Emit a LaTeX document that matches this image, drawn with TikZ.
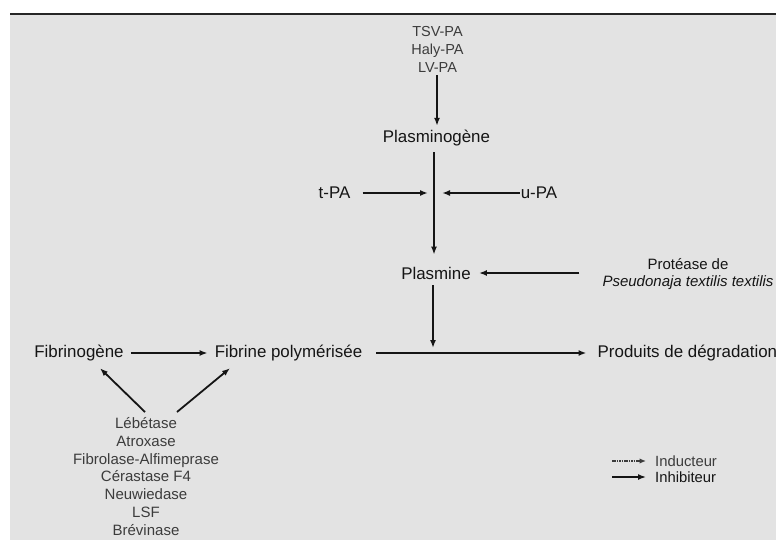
\documentclass[tikz,border=0pt]{standalone}
\usepackage{fontspec}
\setmainfont{Liberation Sans}
\usetikzlibrary{arrows.meta}
\definecolor{panel}{HTML}{E3E3E3}
\definecolor{rulecol}{HTML}{262626}
\definecolor{ink}{HTML}{151515}
\definecolor{soft}{HTML}{3C3C3C}
\begin{document}
\begin{tikzpicture}[x=1pt,y=-1pt,
  lbl/.style={inner sep=0pt, text=ink, font=\fontsize{16.9}{20}\selectfont},
  sml/.style={inner sep=0pt, text=soft, align=center, font=\fontsize{15}{17.9}\selectfont},
  leg/.style={inner sep=0pt, text=soft, anchor=west, font=\fontsize{14.8}{16}\selectfont},
  arr/.style={draw=ink, line width=1.8pt, -{Latex[length=8pt,width=6pt]}},
  indarr/.style={draw=soft, line width=1.3pt, dash pattern=on 1.6pt off 0.8pt, -{Latex[length=6.5pt,width=5.5pt]}},
]
% page and panel
\useasboundingbox (0,0) rectangle (776,540);
\fill[white] (0,0) rectangle (776,540);
\fill[panel] (10,14) rectangle (776,540);
\draw[rulecol, line width=2.6pt] (10,14) -- (776,14);

% labels
\node[sml, font=\fontsize{14.5}{18}\selectfont] (src) at (437.5,49) {TSV-PA\\Haly-PA\\LV-PA};
\node[lbl] (pgn) at (436.5,138) {Plasminogène};
\node[lbl] (tpa) at (334.5,193) {t-PA};
\node[lbl] (upa) at (539,193) {u-PA};
\node[lbl] (pla) at (436,273) {Plasmine};
\node[sml, text=ink] (prot) at (688,274) {Protéase de\\\textit{Pseudonaja textilis textilis}};
\node[lbl] (fgn) at (79,353) {Fibrinogène};
\node[lbl] (fpol) at (288.5,353) {Fibrine polymérisée};
\node[lbl, anchor=west] (prod) at (597.5,353) {Produits de dégradation};
\node[sml] (enz) at (146,476.5) {Lébétase\\Atroxase\\Fibrolase-Alfimeprase\\Cérastase F4\\Neuwiedase\\LSF\\Brévinase};

\coordinate (j) at (434,193);
\coordinate (k) at (433,352);

% activation cascade
\draw[arr, shorten <=3pt, shorten >=4pt] (src.south -| 437,0) -- (pgn.north -| 437,0);
\draw[arr, shorten <=6pt, shorten >=12pt] (pgn.south -| j) -- (pla.north -| j);
\draw[arr, shorten <=12pt, shorten >=6pt] (tpa.east) -- (j);
\draw[arr, shorten <=1pt, shorten >=8pt] (upa.west) -- (j);
\draw[arr, shorten <=23pt, shorten >=8pt] (pla.east -| prot.west) -- (pla.east);
\draw[arr, shorten <=6pt, shorten >=4pt] (pla.south -| k) -- (k);

% fibrin pathway
\draw[arr, shorten <=7pt, shorten >=7pt] (fgn.east) -- (fpol.west);
\draw[arr, shorten <=14pt, shorten >=11pt] (fpol.east) -- (prod.west);
\draw[arr] ([xshift=-1pt,yshift=5pt]enz.north) -- ([xshift=21pt,yshift=-7pt]fgn.south);
\draw[arr] ([xshift=31pt,yshift=5pt]enz.north) -- ([xshift=-58.5pt,yshift=-7pt]fpol.south);

% legend
\node[leg] (ind) at (655,461) {Inducteur};
\node[leg, text=ink] (inh) at (655,477) {Inhibiteur};
\draw[indarr] ([xshift=-43pt]ind.west) -- ([xshift=-9pt]ind.west);
\draw[arr, line width=1.5pt] ([xshift=-43pt]inh.west) -- ([xshift=-9pt]inh.west);
\end{tikzpicture}
\end{document}
